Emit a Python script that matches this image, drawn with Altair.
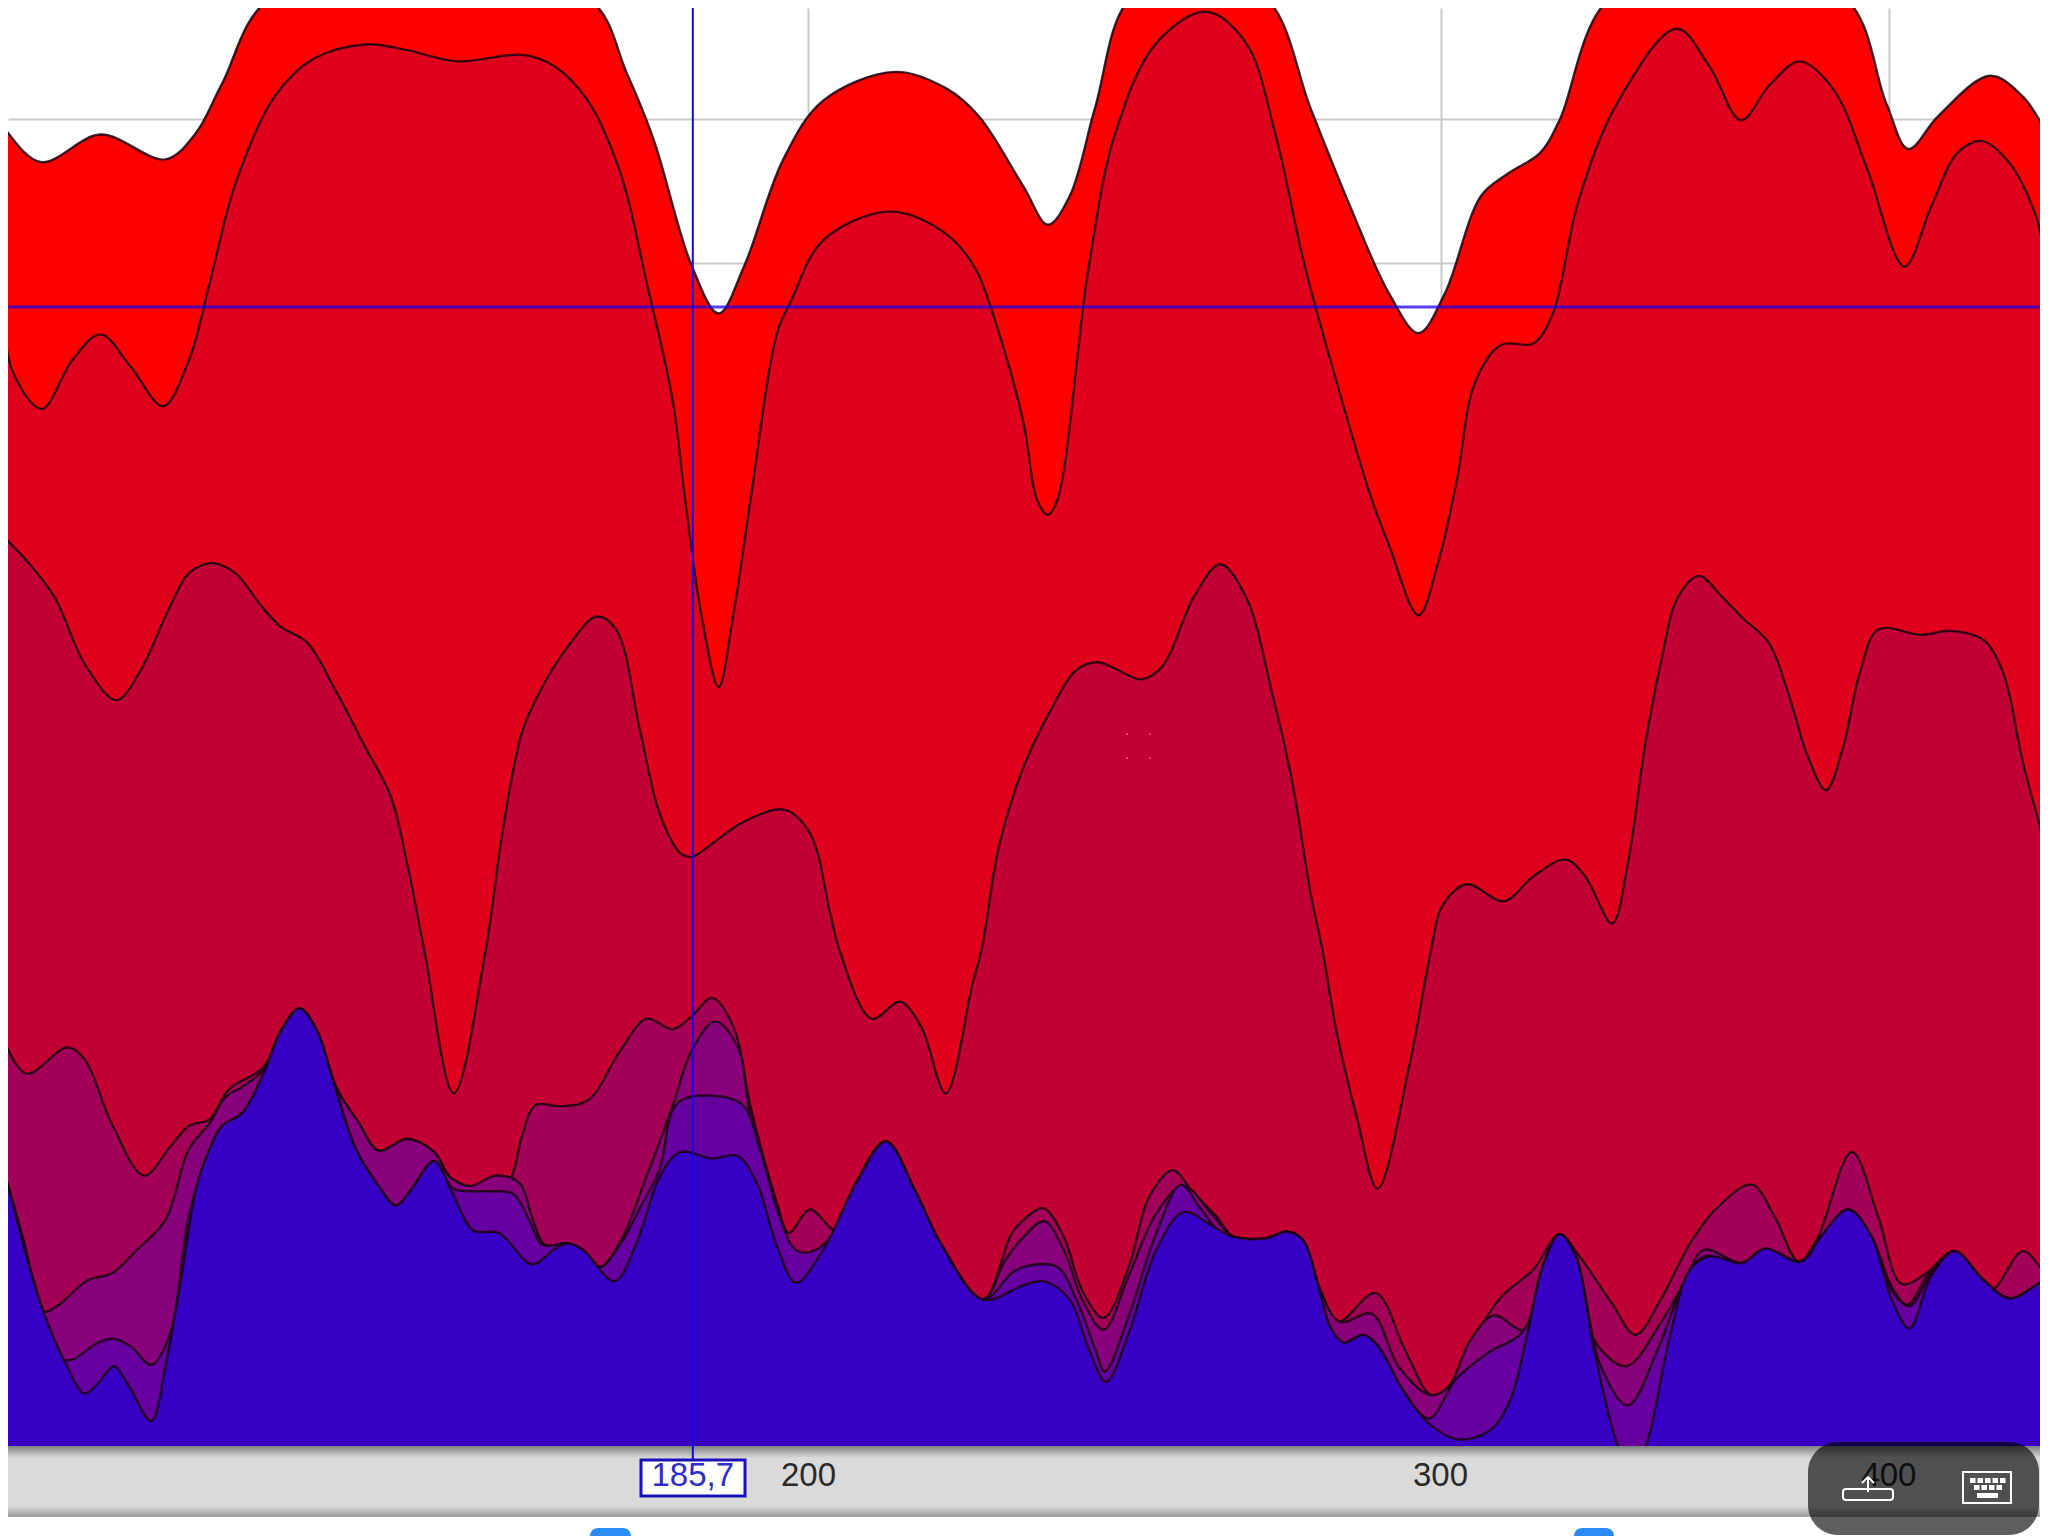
import altair as alt
import pandas as pd

# Frequency axis (log, Hz); level is read in chart units, larger = lower on the display
s1_hz = [118,119.0,122.2,127.0,132.4,135.0,137.3,141.4,157.0,173.9,178.0,181.1,185.6,188.8,191.9,196.8,201.9,211.4,218.6,223.1,229.6,233.2,236.5,240.4,245.6,256.7,268.6,276.1,283.1,290.3,295.8,300.8,307.9,313.2,319.8,323.8,334,359.7,389.4,399.3,405,412.8,426.8,435.9,442.8,450]
s1_lv = [80,93,124,103,122,102,64,0,-30,0,56,107,204,240,204,122,77,55,68,89,143,172,150,82,0,-25,0,84,158,225,255,225,150,133,117,92,0,-30,0,79,114,89,58,74,102,130]

s2_hz = [118,119.0,120.1,122.3,124.7,127.0,129.5,132.2,134.4,136.2,138.5,142.0,145.6,150.5,154.4,159.6,166.5,170,173.6,177.3,180.3,183.3,184.8,186.7,188.8,190.6,192.7,196,197.8,201.9,210.5,217.7,222.2,226,229.6,231.6,233.2,234.6,239.4,243.5,250,258.1,264.8,269.8,275,280.7,286.7,290.3,295.8,299.5,303.2,306.7,311.9,318.4,322.4,327.8,336.3,349.1,356.5,363.8,370.3,377.8,386.1,394.3,404,411,418,424.6,432.2,439.6,442.8,450]
s2_lv = [190,225,286,313,276,256,281,311,276,217,140,74,45,34,38,47,42,51,77,133,217,306,383,470,526,470,383,255,230,184,162,176,202,255,324,383,394,383,204,102,33,9,33,102,204,293,378,418,471,431,367,293,264,263,240,153,77,22,51,92,66,47,69,128,204,158,117,108,125,166,204,280]

s3_hz = [118,119.0,121.1,123.3,125.7,128.3,130.2,132.8,134.4,136.4,138.5,140.8,142.6,145,147.5,150.5,153,154.6,156.3,159.3,162.6,164.4,166.5,168.6,171.4,174.6,176.8,179.5,181.8,184.2,185.6,188,191.9,197,200.2,202.8,204,208.3,212.1,215,218.4,222.2,223.5,226,229.6,233.6,237.5,240.8,247.7,251,256.1,260.5,264.8,269.3,272.7,276.1,278.1,280.7,284.3,288.1,294,298.2,300.3,305.1,312.4,318.4,325.1,329.2,334.9,338.3,342.0,345.5,349.4,354.1,359.4,364.1,370.3,375,379.7,384.2,388.4,392.6,397.3,408.3,416.2,425,430.4,435.9,442.8,450]
s3_lv = [395,407,429,457,508,536,515,464,439,431,439,464,480,492,526,572,610,661,727,837,727,635,559,526,495,472,482,559,623,653,656,646,629,620,638,699,727,780,767,786,837,753,727,648,587,544,513,507,520,510,457,432,457,531,597,686,727,791,855,910,817,727,694,677,690,671,658,671,707,661,572,508,457,441,457,473,492,531,579,605,572,515,482,486,483,490,515,584,653,720]

s4_hz = [118,119,121.1,124.3,125.7,127.9,130.6,132.8,134.4,136.2,137.9,141,142.6,144.3,145.9,147.7,149.9,151.8,154.6,157.3,158.9,161,163.1,164.8,165.6,166.5,167.9,170.7,173.7,177.3,180.3,183.3,185.6,188,190.6,192.7,196,197.5,200.2,203.6,206.2,210.2,214.1,217.7,223.7,227.8,229.6,232.5,235.6,238.4,241.7,245.6,248.9,252.7,256.1,259.8,262.7,268.3,271.8,274.6,277.3,279.5,281.2,287.8,293.3,298.2,301.5,306.7,311.9,318.4,323.8,327.8,334.9,340,345.5,352.1,357.9,366.3,371.8,377.5,381.9,390.6,397.3,403.3,411,417.2,426.8,435.9,442.8,450]
s4_lv = [770,789,822,802,811,860,900,878,862,857,834,817,789,772,789,832,860,881,872,882,901,909,911,909,895,868,846,847,842,804,780,788,778,764,786,847,921,944,926,942,906,874,911,952,995,945,934,925,947,988,1009,970,916,896,914,931,947,948,943,949,983,1005,1012,990,1034,1068,1062,1023,993,972,945,961,998,1022,995,952,926,907,932,966,949,882,932,983,972,958,988,958,976,985]

s5_hz = [118,119.0,120.9,122.4,123.5,126,127.9,130,132.4,134.4,136.2,137.6,139.1,141,142.6,144.3,145.9,147.7,149.9,151.8,154.6,157.3,158.9,161,163.7,166.2,167.5,168.9,171.4,173.1,175,177.3,180.3,183.3,185.6,188.4,191.1,192.7,196,197.8,200.2,203.6,206.2,210.2,214.1,217.7,223.7,226.9,229.6,232.7,235.6,238.4,241.7,245.6,250,254.4,259.3,262.7,268.3,271.8,274.6,277.3,281.2,287.1,292,298,301.5,305.8,310.5,316.4,320.3,323.8,327.2,331.1,338,345.5,350.6,355.2,364.1,369.4,378.1,382.9,389.7,395.6,400.7,404.7,411,417.2,425,432.2,442.8,450]
s5_lv = [860,885,950,1004,1000,980,975,957,934,880,860,840,832,819,789,772,789,832,860,881,872,882,901,908,900,906,932,953,952,957,970,950,900,847,804,782,801,855,931,957,975,942,906,874,911,952,995,965,947,935,957,995,1018,977,929,908,931,947,948,943,949,983,1012,1006,1046,1068,1062,1026,1007,1018,970,945,962,1026,1046,1013,983,957,967,956,966,947,926,947,985,999,972,958,980,994,979,975]

s6_hz = [118,119,122.2,123.8,124.7,126.8,128.1,129.5,131.2,132.8,134.4,136.2,137.3,139.1,141,142.6,144.3,145.9,147.5,149.5,151.8,153.5,155,157.3,159.2,161,163.1,165.5,167.2,168.6,171.4,173.1,175,177.3,179.5,181.8,183.3,184.8,189.6,191.9,193.9,196.3,198.4,200.5,203.6,206.2,210.2,214.1,217.7,223.7,227.8,229.6,234.6,237.5,240.4,241.9,245.6,250,254.0,257,260.5,262.7,268.3,271.8,274.6,277.3,279.5,281.9,285.5,288.3,292.8,297.8,303,309.2,316.4,320.3,323.8,327.2,332.5,338.3,344.9,350.6,355.2,364.1,369.4,378.1,382.9,389.7,395.6,400.7,405.3,411,417.2,425,432.2,442.8,450]
s6_lv = [860,885,998,1040,1041,1028,1025,1031,1045,1021,931,880,862,852,822,789,772,789,829,878,908,923,911,889,910,912,912,914,934,953,952,957,970,952,925,895,850,841,840,847,880,931,957,958,942,906,874,911,952,995,975,970,970,995,1033,1050,1008,944,907,924,944,947,948,943,949,983,1016,1028,1022,1031,1064,1086,1056,1036,1019,970,945,962,1046,1076,1033,983,962,967,956,966,947,926,947,988,1000,975,958,980,994,979,975]

s7_hz = [118,119.0,122.2,124.3,125.7,126.8,128.1,129.2,131.2,132.4,133.9,135,136.2,137.3,139.1,141,142.6,144.3,145.9,147.5,149.5,151.8,153.5,155,157.3,159.2,161.3,164,167.5,170,171.4,173.1,176.6,179.1,181.8,184.2,188,191.1,193.5,196,198.4,201.9,206.2,210.2,214.1,217.7,223.7,229.6,232.7,236.5,239.4,242.1,245.6,250,254.4,259.3,262.7,268.3,271.8,274.6,277.3,279.5,281.9,285.5,288.3,292.8,297.8,303.4,309.7,313.7,317.2,320.3,323.8,327.2,331.1,336.3,339.4,342.2,347.7,352.1,356.5,364.1,369.4,378.1,382.9,389.7,395.6,400.7,405.3,411,417.2,425,432.2,442.8,450]
s7_lv = [860,885,998,1046,1067,1059,1046,1059,1088,1046,970,911,880,862,852,822,789,772,789,829,878,908,923,911,889,914,942,944,968,956,952,957,981,952,901,882,887,885,906,954,982,957,906,874,911,952,995,984,981,995,1033,1058,1021,957,928,939,947,948,943,949,983,1016,1028,1022,1031,1064,1090,1102,1095,1072,1021,970,945,962,1034,1108,1125,1108,1021,972,962,967,956,966,947,926,947,995,1017,977,958,980,994,979,975]

series_hz = [s1_hz, s2_hz, s3_hz, s4_hz, s5_hz, s6_hz, s7_hz]
series_lv = [s1_lv, s2_lv, s3_lv, s4_lv, s5_lv, s6_lv, s7_lv]
series_colors = ["#ff0000", "#e0001d", "#c20033", "#a30058", "#88007c", "#6600a0", "#3800c4"]

BASE = 1108
tick_hz = [200, 300, 400]
tick_lab = ["200", "300", "400"]
cursor_hz = 185.7
cursor_lab = "185,7"
cursor_lv = 235
grid_lv = [91.4, 201.6, 311.8, 422.0]

W, H = 2032, 1528
x_scale = alt.Scale(type="log", domain=[119.68, 440.7], nice=False)
y_scale = alt.Scale(domain=[6.1, 1176], reverse=True, zero=False, nice=False)
FONT = "Liberation Sans"
one = pd.DataFrame({"a": [0]})
CURVE = "catmull-rom"

x_axis = alt.Axis(values=tick_hz, grid=True, gridColor="#c9c9c9", gridWidth=2, labels=False,
                  ticks=False, domain=False, title=None)
y_axis = alt.Axis(values=grid_lv, grid=True, gridColor="#c9c9c9", gridWidth=2, labels=False,
                  ticks=False, domain=False, title=None)


def X():
    return alt.X("hz:Q", scale=x_scale, axis=x_axis)


def Y():
    return alt.Y("lv:Q", scale=y_scale, axis=y_axis)


def px_rect(x0, x1, y0, y1, **mark):
    # page pixels for the window furniture, not for data
    return alt.Chart(one).mark_rect(**mark).encode(
        x=alt.value(x0 - 8), x2=alt.value(x1 - 8), y=alt.value(y0 - 8), y2=alt.value(y1 - 8))


def px_line(x0, y0, x1, y1, **mark):
    return alt.Chart(one).mark_rule(**mark).encode(
        x=alt.value(x0 - 8), x2=alt.value(x1 - 8), y=alt.value(y0 - 8), y2=alt.value(y1 - 8))


layers = []
for hz, lv, col in zip(series_hz, series_lv, series_colors):
    d = pd.DataFrame({"hz": hz, "lv": lv, "base": [BASE] * len(hz)})
    layers.append(alt.Chart(d).mark_area(color=col, interpolate=CURVE, clip=True).encode(
        x=X(), y=Y(), y2=alt.Y2("base:Q")))
    layers.append(alt.Chart(d).mark_line(color="#1a0010", strokeWidth=2.4, strokeOpacity=0.85,
                                         interpolate=CURVE, clip=True).encode(x=X(), y=Y()))

# crosshair over the curves
layers.append(alt.Chart(pd.DataFrame({"lv": [cursor_lv]})).mark_rule(color="#2000e0", strokeWidth=3, opacity=0.75)
              .encode(y=Y(), x=alt.value(0), x2=alt.value(W)))

# axis band, and the white strip below it that hides the grid
layers.append(px_rect(0, 2056, 1517, 1560, fill="#ffffff"))
band_fill = alt.LinearGradient(gradient="linear", x1=0, x2=0, y1=0, y2=1, stops=[
    alt.GradientStop(offset=0, color="#7f7f7f"),
    alt.GradientStop(offset=0.17, color="#dadada"),
    alt.GradientStop(offset=0.85, color="#dadada"),
    alt.GradientStop(offset=0.99, color="#9b9b9b"),
    alt.GradientStop(offset=1, color="#b5b5b5"),
])
layers.append(px_rect(0, 2056, 1446, 1517, fill=band_fill))

layers.append(alt.Chart(pd.DataFrame({"hz": [cursor_hz]})).mark_rule(color="#1800f0", strokeWidth=2)
              .encode(x=X(), y=alt.value(0), y2=alt.value(1459 - 8)))

ticks_df = pd.DataFrame({"hz": tick_hz, "lab": tick_lab, "lv": [1130] * 3})
layers.append(alt.Chart(ticks_df).mark_text(font=FONT, fontSize=33, color="#2a2a2a", baseline="middle")
              .encode(x=X(), y=Y(), text="lab:N"))

layers.append(px_rect(641, 745, 1460, 1496, fill="#ffffff", stroke="#1a10b8", strokeWidth=3))
layers.append(alt.Chart(pd.DataFrame({"hz": [cursor_hz], "lab": [cursor_lab], "lv": [1130]}))
              .mark_text(font=FONT, fontSize=33, color="#2c2cc8", baseline="middle")
              .encode(x=X(), y=Y(), text="lab:N"))

# cursor specks
specks = [(1127, 734), (1150, 734), (1127, 758), (1150, 758)]
for sx, sy in specks:
    layers.append(px_rect(sx - 1, sx + 1, sy - 1, sy + 1, fill="#ff5c80", opacity=0.7))

# tops of the two blue checkboxes below the band
layers.append(px_rect(590, 631, 1528, 1560, fill="#2a8cf5", cornerRadius=8))
layers.append(px_rect(1574, 1614, 1528, 1560, fill="#2a8cf5", cornerRadius=8))

# dark floating panel
layers.append(px_rect(1808, 2039, 1442, 1535, fill="#000000", opacity=0.63, cornerRadius=30))

# upload icon
layers.append(px_rect(1843, 1893, 1489, 1500, fillOpacity=0, stroke="#ffffff", strokeWidth=2, cornerRadius=3))
layers.append(px_line(1868, 1477, 1868, 1492, color="#ffffff", strokeWidth=2))
layers.append(px_line(1868, 1477, 1862, 1483, color="#ffffff", strokeWidth=2))
layers.append(px_line(1868, 1477, 1874, 1483, color="#ffffff", strokeWidth=2))

# keyboard icon
layers.append(px_rect(1963, 2011, 1472, 1503, fillOpacity=0, stroke="#ffffff", strokeWidth=2))
for kx in [1970, 1977.5, 1985, 1992.5, 2000]:
    layers.append(px_rect(kx, kx + 5.5, 1478, 1483, fill="#ffffff"))
for kx in [1974, 1981.5, 1989, 1996.5]:
    layers.append(px_rect(kx, kx + 5.5, 1485, 1490, fill="#ffffff"))
layers.append(px_rect(1977, 1998, 1493, 1498, fill="#ffffff"))

chart = alt.layer(*layers).properties(
    width=W, height=H, padding=0, background="#ffffff",
    autosize=alt.AutoSizeParams(type="none"),
).configure_view(stroke=None)

chart.save("out.html", embed_options={"renderer": "svg", "actions": False})
